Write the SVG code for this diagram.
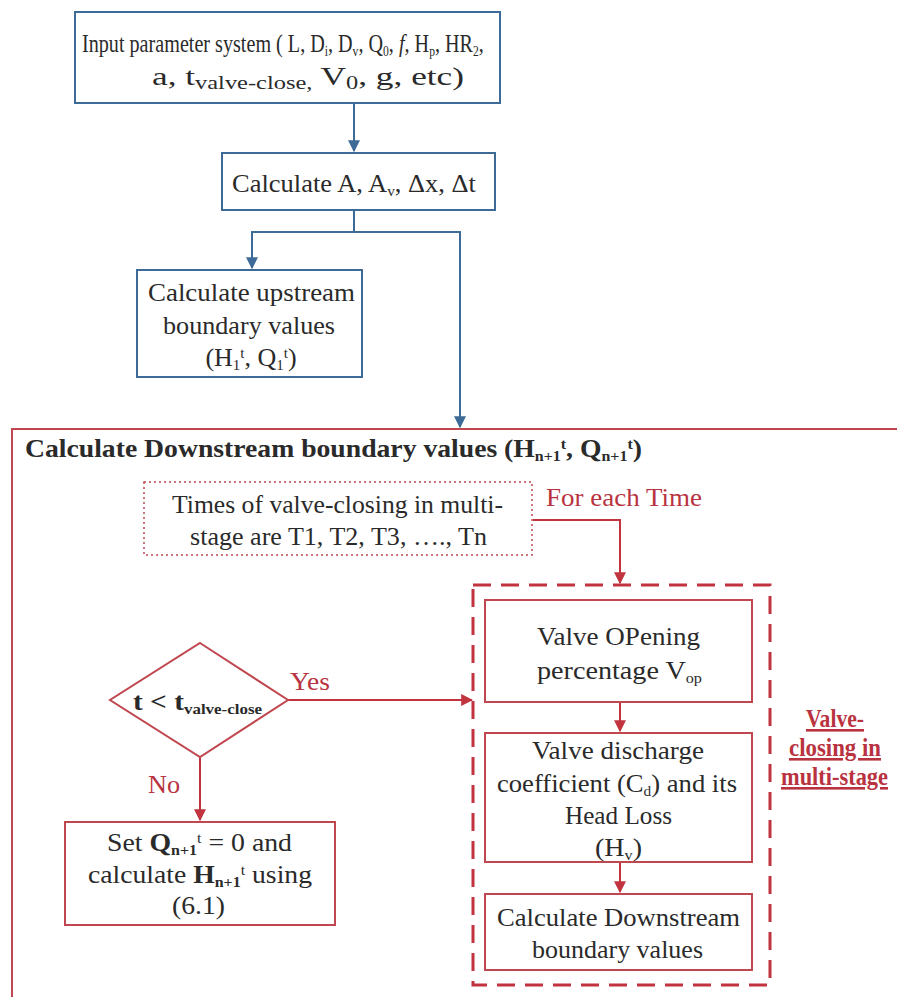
<svg xmlns="http://www.w3.org/2000/svg" width="897" height="997" viewBox="0 0 897 997" font-family="'Liberation Serif', 'DejaVu Serif', serif">
<defs>
<style>
text{font-family:'Liberation Serif','DejaVu Serif',serif;font-size:26px;fill:#2a2a2a}
.b{font-weight:bold}
.s{font-size:15px}
.red{fill:#b8333f}
.bbox{fill:#fff;stroke:#3d6a96;stroke-width:2}
.rbox{fill:#fff;stroke:#c0474f;stroke-width:2}
.bl{fill:none;stroke:#3d6a96;stroke-width:2}
.rl{fill:none;stroke:#c0333f;stroke-width:2}
</style>
<marker id="ab" viewBox="0 0 10 10" refX="9" refY="5" markerWidth="6" markerHeight="6" orient="auto"><path d="M0,0L10,5L0,10z" fill="#3d6a96"/></marker>
<marker id="ar" viewBox="0 0 10 10" refX="9" refY="5" markerWidth="6" markerHeight="6" orient="auto"><path d="M0,0L10,5L0,10z" fill="#c0333f"/></marker>
</defs>
<rect width="897" height="997" fill="#fff"/>

<g id="outer">
<rect x="12" y="429" width="900" height="580" fill="none" stroke="#c0474f" stroke-width="2"/>
<text x="25" y="457" class="b" font-size="24" textLength="617" lengthAdjust="spacingAndGlyphs">Calculate Downstream boundary values (H<tspan class="s" dy="4">n+1</tspan><tspan class="s" dy="-12">t</tspan><tspan dy="8">, Q</tspan><tspan class="s" dy="4">n+1</tspan><tspan class="s" dy="-12">t</tspan><tspan dy="8">)</tspan></text>
</g>

<g id="connectors">
<line x1="354" y1="104" x2="354" y2="151" class="bl" marker-end="url(#ab)"/>
<polyline points="354,211 354,232 252,232 252,268" class="bl" marker-end="url(#ab)"/>
<polyline points="354,232 460,232 460,427" class="bl" marker-end="url(#ab)"/>
<polyline points="533,520 620,520 620,583" class="rl" marker-end="url(#ar)"/>
<line x1="288" y1="700" x2="472" y2="700" class="rl" marker-end="url(#ar)"/>
<line x1="200" y1="757" x2="200" y2="820" class="rl" marker-end="url(#ar)"/>
<line x1="620" y1="703" x2="620" y2="731" class="rl" marker-end="url(#ar)"/>
<line x1="620" y1="863" x2="620" y2="892" class="rl" marker-end="url(#ar)"/>
<text x="290" y="690" class="red" textLength="40" lengthAdjust="spacingAndGlyphs">Yes</text>
<text x="148" y="793" class="red" textLength="32" lengthAdjust="spacingAndGlyphs">No</text>
<text x="546" y="506" class="red" textLength="156" lengthAdjust="spacingAndGlyphs">For each Time</text>
</g>

<g id="input">
<rect x="75" y="12" width="425" height="91" class="bbox"/>
<text transform="translate(82,52) scale(0.775,1)" x="0" y="0" font-size="24">Input parameter system ( L, D<tspan class="s" dy="4">i</tspan><tspan dy="-4">, D</tspan><tspan class="s" dy="4">v</tspan><tspan dy="-4">, Q</tspan><tspan class="s" dy="4">0</tspan><tspan dy="-4">, </tspan><tspan font-style="italic">f,</tspan> H<tspan class="s" dy="4">p</tspan><tspan dy="-4">, HR</tspan><tspan class="s" dy="4">2</tspan><tspan dy="-4">,</tspan></text>
<text x="152" y="85" font-size="27" textLength="312" lengthAdjust="spacingAndGlyphs">a, t<tspan font-size="18" dy="4">valve-close,</tspan><tspan dy="-4"> V</tspan><tspan font-size="18" dy="4">0</tspan><tspan dy="-4">, g, etc)</tspan></text>
</g>

<g id="calcA">
<rect x="222" y="153" width="273" height="57" class="bbox"/>
<text x="232" y="192" textLength="244" lengthAdjust="spacingAndGlyphs">Calculate A, A<tspan class="s" dy="4">v</tspan><tspan dy="-4">, Δx, Δt</tspan></text>
</g>

<g id="upstream">
<rect x="137" y="270" width="225" height="107" class="bbox"/>
<text x="148" y="301" textLength="207" lengthAdjust="spacingAndGlyphs">Calculate upstream</text>
<text x="163" y="334" textLength="172" lengthAdjust="spacingAndGlyphs">boundary values</text>
<text x="251" y="366" font-size="24" text-anchor="middle">(H<tspan class="s" dy="4">1</tspan><tspan class="s" dy="-12">t</tspan><tspan dy="8">, Q</tspan><tspan class="s" dy="4">1</tspan><tspan class="s" dy="-12">t</tspan><tspan dy="8">)</tspan></text>
</g>

<g id="times">
<rect x="144" y="482" width="388" height="73" fill="#fff" stroke="#c0474f" stroke-width="1.5" stroke-dasharray="2,3"/>
<text x="172" y="513" textLength="331" lengthAdjust="spacingAndGlyphs">Times of valve-closing in multi-</text>
<text x="190" y="545" textLength="297" lengthAdjust="spacingAndGlyphs">stage are T1, T2, T3, …., Tn</text>
</g>

<g id="multistage">
<rect x="473" y="585" width="297" height="400" fill="none" stroke="#c0333f" stroke-width="3" stroke-dasharray="18,10"/>
<text x="806" y="727" class="b red" font-size="20" text-decoration="underline" textLength="58" lengthAdjust="spacingAndGlyphs">Valve-</text>
<text x="789" y="756" class="b red" font-size="20" text-decoration="underline" textLength="92" lengthAdjust="spacingAndGlyphs">closing in</text>
<text x="781" y="785" class="b red" font-size="19" text-decoration="underline" textLength="107" lengthAdjust="spacingAndGlyphs">multi-stage</text>
</g>

<g id="decision">
<polygon points="200,643 288,700 200,757 110,700" class="rbox"/>
<text x="133" y="710" class="b" font-size="23" textLength="129" lengthAdjust="spacingAndGlyphs">t &lt; t<tspan class="s" dy="4">valve-close</tspan></text>
</g>

<g id="setQ">
<rect x="65" y="822" width="270" height="103" class="rbox"/>
<text x="107" y="851" textLength="185" lengthAdjust="spacingAndGlyphs">Set <tspan class="b">Q</tspan><tspan class="s b" dy="4">n+1</tspan><tspan class="s" dy="-12">t</tspan><tspan dy="8"> = 0 and</tspan></text>
<text x="88" y="883" textLength="224" lengthAdjust="spacingAndGlyphs">calculate <tspan class="b">H</tspan><tspan class="s b" dy="4">n+1</tspan><tspan class="s" dy="-12">t</tspan><tspan dy="8"> using</tspan></text>
<text x="172" y="914" textLength="53" lengthAdjust="spacingAndGlyphs">(6.1)</text>
</g>

<g id="vop">
<rect x="485" y="600" width="267" height="102" class="rbox"/>
<text x="537" y="645" textLength="163" lengthAdjust="spacingAndGlyphs">Valve OPening</text>
<text x="537" y="679" textLength="165" lengthAdjust="spacingAndGlyphs">percentage V<tspan class="s" dy="4">op</tspan></text>
</g>

<g id="cd">
<rect x="485" y="733" width="267" height="129" class="rbox"/>
<text x="532" y="759" textLength="172" lengthAdjust="spacingAndGlyphs">Valve discharge</text>
<text x="497" y="792" textLength="240" lengthAdjust="spacingAndGlyphs">coefficient (C<tspan class="s" dy="4">d</tspan><tspan dy="-4">) and its</tspan></text>
<text x="565" y="824" textLength="107" lengthAdjust="spacingAndGlyphs">Head Loss</text>
<text x="595" y="856" textLength="47" lengthAdjust="spacingAndGlyphs">(H<tspan class="s" dy="4">v</tspan><tspan dy="-4">)</tspan></text>
</g>

<g id="downcalc">
<rect x="485" y="894" width="267" height="76" class="rbox"/>
<text x="497" y="926" textLength="243" lengthAdjust="spacingAndGlyphs">Calculate Downstream</text>
<text x="532" y="958" textLength="171" lengthAdjust="spacingAndGlyphs">boundary values</text>
</g>
</svg>
